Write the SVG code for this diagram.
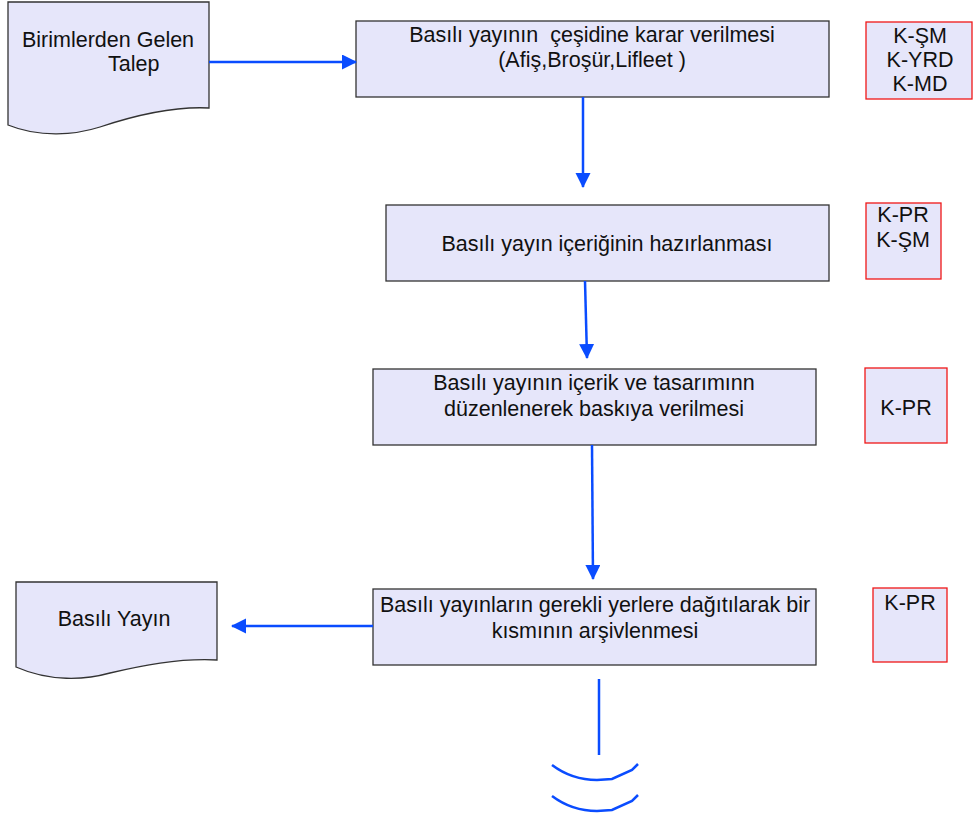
<svg xmlns="http://www.w3.org/2000/svg" width="973" height="818" viewBox="0 0 973 818">
<style>
.box{fill:#e6e6fa;stroke:#333;stroke-width:1.3}
.rbox{fill:#e6e6fa;stroke:#f01818;stroke-width:1.3}
.t{font-family:"Liberation Sans",Arial,sans-serif;font-size:21.5px;fill:#111;text-anchor:middle}
.c{stroke:#0a4cff;stroke-width:2.5;fill:none}
</style>
<defs>
<marker id="ah" markerUnits="userSpaceOnUse" markerWidth="16" markerHeight="16" refX="14" refY="7.5" orient="auto">
<path d="M0,0 L15,7.5 L0,15 Z" fill="#0a4cff"/>
</marker>
</defs>
<rect width="973" height="818" fill="#fff"/>
<g id="doc1">
<path class="box" d="M8,2 H209 V108 C170,106 130,117 100,127 C75,135 40,138 8,125 Z"/>
<text class="t" style="text-anchor:start"><tspan x="22" y="47">Birimlerden Gelen</tspan><tspan x="108" y="71">Talep</tspan></text>
</g>
<g id="n1">
<rect class="box" x="356" y="21" width="473" height="76"/>
<text class="t"><tspan x="592" y="42">Basılı yayının&#160; çeşidine karar verilmesi</tspan><tspan x="592" y="67">(Afiş,Broşür,Lifleet )</tspan></text>
</g>
<g id="r1">
<rect class="rbox" x="866" y="22" width="106" height="77"/>
<text class="t"><tspan x="920" y="43">K-ŞM</tspan><tspan x="920" y="67">K-YRD</tspan><tspan x="920" y="91">K-MD</tspan></text>
</g>
<g id="n2">
<rect class="box" x="386" y="205" width="443" height="76"/>
<text class="t" x="607" y="251">Basılı yayın içeriğinin hazırlanması</text>
</g>
<g id="r2">
<rect class="rbox" x="866" y="203" width="75" height="76"/>
<text class="t"><tspan x="903" y="222">K-PR</tspan><tspan x="903" y="247">K-ŞM</tspan></text>
</g>
<g id="n3">
<rect class="box" x="373" y="369" width="443" height="76"/>
<text class="t"><tspan x="594" y="390">Basılı yayının içerik ve tasarımınn</tspan><tspan x="594" y="416">düzenlenerek baskıya verilmesi</tspan></text>
</g>
<g id="r3">
<rect class="rbox" x="865" y="368" width="82" height="75"/>
<text class="t" x="906" y="415">K-PR</text>
</g>
<g id="n4">
<rect class="box" x="373" y="589" width="443" height="76"/>
<text class="t"><tspan x="595" y="612">Basılı yayınların gerekli yerlere dağıtılarak bir</tspan><tspan x="595" y="638">kısmının arşivlenmesi</tspan></text>
</g>
<g id="r4">
<rect class="rbox" x="873" y="588" width="74" height="74"/>
<text class="t" x="910" y="610">K-PR</text>
</g>
<g id="doc2">
<path class="box" d="M16,582 H217 V660 C178,658 140,666 110,673 C85,680 50,682 16,667 Z"/>
<text class="t" x="114" y="626">Basılı Yayın</text>
</g>
<g id="connectors">
<line class="c" x1="209" y1="62" x2="356" y2="62" marker-end="url(#ah)"/>
<line class="c" x1="583" y1="97" x2="583" y2="187" marker-end="url(#ah)"/>
<line class="c" x1="585" y1="281" x2="587" y2="358" marker-end="url(#ah)"/>
<line class="c" x1="592" y1="445" x2="593" y2="579" marker-end="url(#ah)"/>
<line class="c" x1="373" y1="626" x2="232" y2="626" marker-end="url(#ah)"/>
<line class="c" x1="599" y1="679" x2="599" y2="755"/>
<path class="c" d="M552,765 Q572,780 597,780 L612,779 L632,770 L638,764"/>
<path class="c" d="M552,796 Q572,811 597,811 L612,810 L632,801 L638,795"/>
</g>
</svg>
